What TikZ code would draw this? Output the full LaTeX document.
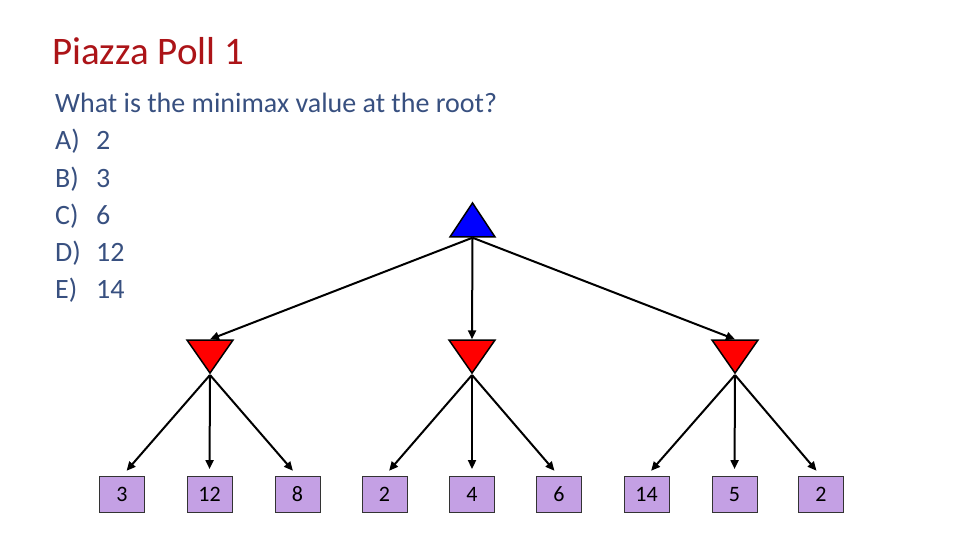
\documentclass[tikz,border=0pt]{standalone}
\usepackage{fontspec}
\setmainfont{Carlito}
\usetikzlibrary{shapes.geometric,arrows.meta}
\definecolor{polltitle}{RGB}{172,20,24}
\definecolor{polltext}{RGB}{56,80,128}
\definecolor{leaffill}{RGB}{196,160,228}
\begin{document}
\begin{tikzpicture}[x=1pt,y=-1pt]
    \tikzstyle{maxnode}=[isosceles triangle, isosceles triangle stretches, shape border rotate=90, minimum width=45pt, minimum height=34pt, inner sep=0pt, fill=blue, draw=black, line width=1.5pt, anchor=apex]
    \tikzstyle{minnode}=[isosceles triangle, isosceles triangle stretches, shape border rotate=270, minimum width=46pt, minimum height=33pt, inner sep=0pt, fill=red, draw=black, line width=1.5pt, anchor=apex]
    \tikzstyle{leaf}=[rectangle, fill=leaffill, draw=black!80, line width=0.9pt, minimum width=45pt, minimum height=36pt, inner sep=0pt, font=\fontsize{22}{26}\selectfont]
    \tikzstyle{edge}=[line width=2pt, -{Triangle[length=9pt,width=8pt]}]
    \tikzstyle{qline}=[anchor=base west, inner sep=0pt, text=polltext, font=\fontsize{28}{32}\selectfont]
    \fill[white] (0,0) rectangle (960,540);
    \useasboundingbox (0,0) rectangle (960,540);
    % title and question
    \node[anchor=base west, inner sep=0pt, text=polltitle, font=\fontsize{39}{43}\selectfont] (title) at (52,65) {Piazza Poll 1};
    \node[qline] (q) at (55,113) {What is the minimax value at the root?};
    \node[qline] (qa) at (55,150) {\makebox[41pt][l]{A)}2};
    \node[qline] (qb) at (55,187) {\makebox[41pt][l]{B)}3};
    \node[qline] (qc) at (55,224) {\makebox[41pt][l]{C)}6};
    \node[qline] (qd) at (55,261) {\makebox[41pt][l]{D)}12};
    \node[qline] (qe) at (55,298) {\makebox[41pt][l]{E)}14};
    % tree
    \node[maxnode] (root) at (472.5,201) {};
    \node[minnode] (m1) at (210,375) {};
    \node[minnode] (m2) at (472,375) {};
    \node[minnode] (m3) at (735,375) {};
    \node[leaf] (l1) at (122,494.5) {3};
    \node[leaf] (l2) at (209.5,494.5) {12};
    \node[leaf] (l3) at (297.5,494.5) {8};
    \node[leaf] (l4) at (384.5,494.5) {2};
    \node[leaf] (l5) at (472,494.5) {4};
    \node[leaf] (l6) at (559,494.5) {6};
    \node[leaf] (l7) at (646.5,494.5) {14};
    \node[leaf] (l8) at (734.5,494.5) {5};
    \node[leaf] (l9) at (821,494.5) {2};
    \draw[edge] (root.south) -- (m1.north);
    \draw[edge] (root.south) -- (m2.north);
    \draw[edge] (root.south) -- (m3.north);
    \draw[edge, shorten >=7pt] (m1.south) -- (l1.north);
    \draw[edge, shorten >=7pt] (m1.south) -- (l2.north);
    \draw[edge, shorten >=7pt] (m1.south) -- (l3.north);
    \draw[edge, shorten >=7pt] (m2.south) -- (l4.north);
    \draw[edge, shorten >=7pt] (m2.south) -- (l5.north);
    \draw[edge, shorten >=7pt] (m2.south) -- (l6.north);
    \draw[edge, shorten >=7pt] (m3.south) -- (l7.north);
    \draw[edge, shorten >=7pt] (m3.south) -- (l8.north);
    \draw[edge, shorten >=7pt] (m3.south) -- (l9.north);
\end{tikzpicture}
\end{document}
